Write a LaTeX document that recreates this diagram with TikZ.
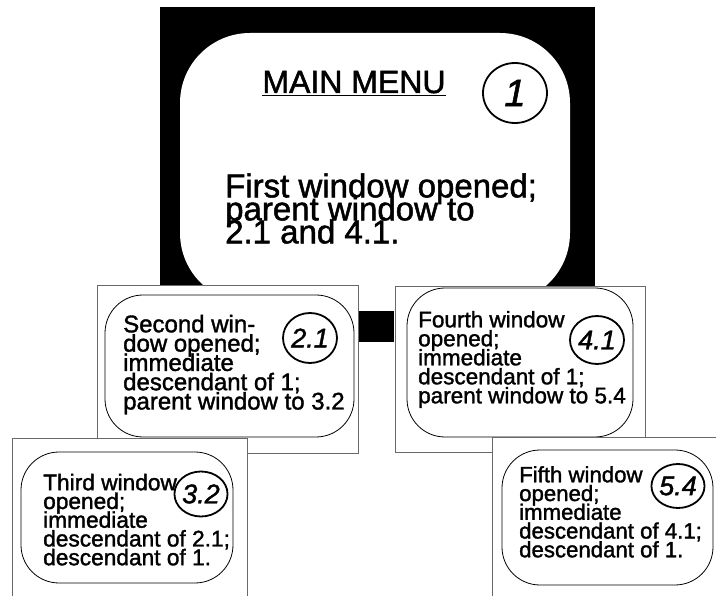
\documentclass[tikz,border=0pt]{standalone}
\usepackage{fontspec}
\setmainfont{Liberation Sans}[FakeBold=1.5]
\usepackage{tikz}
\usetikzlibrary{shapes.geometric, positioning}
\definecolor{framegray}{RGB}{105,105,105}
\definecolor{mydark}{RGB}{0,0,0}
\newcommand{\tightlines}{\lineskiplimit -40pt\relax}
\tikzset{
  mainframe/.style={rectangle, fill=mydark, inner sep=0pt},
  mainpane/.style={rectangle, fill=white, rounded corners=70pt, inner sep=0pt},
  winframe/.style={rectangle, draw=framegray, fill=white, line width=0.9pt, inner sep=0pt},
  winpane/.style={rectangle, draw=mydark, fill=white, line width=0.8pt,
    rounded corners=38pt, inner sep=0pt},
  winnum/.style={ellipse, draw=mydark, line width=1.8pt, inner sep=0pt,
    font=\fontsize{27}{27}\selectfont\itshape},
  wintext/.style={align=left, inner sep=0pt, anchor=north west},
  linkbar/.style={line width=31pt, color=mydark, shorten >=0.45pt, shorten <=0.45pt}
}

\begin{document}
\begin{tikzpicture}[x=1pt, y=-1pt]
  \clip (0,0) rectangle (716,596);

  % Main menu window
  \node[mainframe, minimum width=435pt, minimum height=279pt] (main) at (377.5,146.5) {};
  \node[mainpane, minimum width=390pt, minimum height=270pt] (mainpn) at (375,168) {};
  \node[anchor=base, inner sep=0pt, font=\fontsize{32}{32}\selectfont] (menu) at (354,93) {\underline{MAIN MENU}};
  \node[winnum, minimum width=64pt, minimum height=60pt, font=\fontsize{38}{38}\selectfont\itshape] (num1) at (515,93) {1};
  \node[wintext, font={\fontsize{33}{23}\selectfont\tightlines}] (txt1) at (225,173.2)
    {First window opened;\\parent window to\\2.1 and 4.1.};

  % Second and fourth windows
  \node[winframe, minimum width=261pt, minimum height=168pt] (box21) at (227.5,369) {};
  \node[winframe, minimum width=250pt, minimum height=166pt] (box41) at (520,369) {};
  \draw[linkbar] ([yshift=42.5pt]box21.east) -- ([yshift=42.5pt]box21.east -| box41.west);

  \node[winpane, minimum width=249pt, minimum height=142pt] (pane21) at (229.5,366) {};
  \node[winnum, minimum width=54pt, minimum height=50pt] (num21) at (310,338) {2.1};
  \node[wintext, font={\fontsize{24}{19.3}\selectfont\tightlines}] (txt21) at (123,314.7)
    {Second win-\\dow opened;\\immediate\\descendant of 1;\\parent window to 3.2};

  \node[winpane, minimum width=226pt, minimum height=149pt] (pane41) at (520,362.5) {};
  \node[winnum, minimum width=54pt, minimum height=48pt] (num41) at (597,340) {4.1};
  \node[wintext, font={\fontsize{22.5}{19}\selectfont\tightlines}] (txt41) at (418,310.8)
    {Fourth window\\opened;\\immediate\\descendant of 1;\\parent window to 5.4};

  % Third window
  \node[winframe, minimum width=235pt, minimum height=180pt] (box32) at (129.5,528) {};
  \node[winpane, minimum width=212pt, minimum height=131pt] (pane32) at (127,517.5) {};
  \node[winnum, minimum width=52pt, minimum height=45pt] (num32) at (201,494) {3.2};
  \node[wintext, font={\fontsize{22.7}{18.75}\selectfont\tightlines}] (txt32) at (43,473.6)
    {Third window\\opened;\\immediate\\descendant of 2.1;\\descendant of 1.};

  % Fifth window
  \node[winframe, minimum width=238pt, minimum height=173pt] (box54) at (611,523.5) {};
  \node[winpane, minimum width=211pt, minimum height=135pt] (pane54) at (607.5,517.5) {};
  \node[winnum, minimum width=48pt, minimum height=44pt] (num54) at (678,486) {5.4};
  \node[wintext, font={\fontsize{22.2}{18.75}\selectfont\tightlines}] (txt54) at (519,466)
    {Fifth window\\opened;\\immediate\\descendant of 4.1;\\descendant of 1.};
\end{tikzpicture}
\end{document}
